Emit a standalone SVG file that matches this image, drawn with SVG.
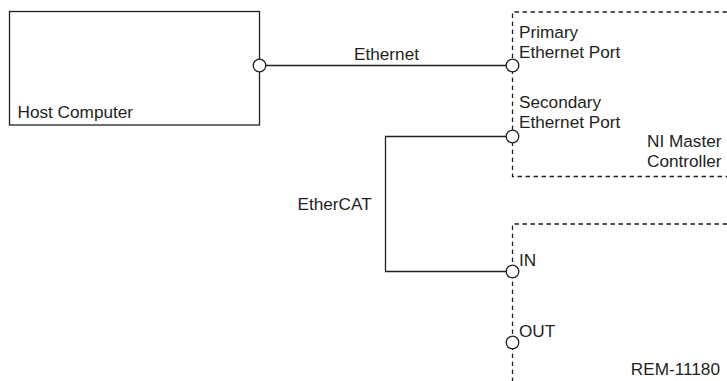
<svg xmlns="http://www.w3.org/2000/svg" width="727" height="381" viewBox="0 0 727 381">
<style>
text{font-family:"Liberation Sans",Arial,sans-serif;font-size:17.2px;fill:#231f20}
.solid{fill:none;stroke:#231f20;stroke-width:1.3}
.dash{fill:none;stroke:#231f20;stroke-width:1.3;stroke-dasharray:4.5 3.5}
.port{fill:#fff;stroke:#231f20;stroke-width:1.3}
</style>
<rect width="727" height="381" fill="#fff"/>
<g id="connectors">
<line class="solid" x1="259.5" y1="65.5" x2="512.5" y2="65.5"/>
<polyline class="solid" points="512.5,136.5 385.5,136.5 385.5,271.5 512.5,271.5"/>
<text x="386.5" y="60" text-anchor="middle">Ethernet</text>
<text x="297.5" y="210">EtherCAT</text>
</g>
<g id="host">
<rect class="solid" x="9.5" y="11.5" width="250" height="113.5"/>
<text x="17.5" y="118">Host Computer</text>
<circle class="port" cx="259.5" cy="65.5" r="6.3"/>
</g>
<g id="master">
<polyline class="dash" points="727,12 512.5,12 512.5,176.5 727,176.5"/>
<text x="519" y="38">Primary</text>
<text x="519" y="57.5">Ethernet Port</text>
<text x="519" y="108">Secondary</text>
<text x="519" y="127.5">Ethernet Port</text>
<text x="721.5" y="147" text-anchor="end">NI Master</text>
<text x="721.5" y="166.5" text-anchor="end">Controller</text>
<circle class="port" cx="512.5" cy="65.5" r="6.3"/>
<circle class="port" cx="512.5" cy="136.5" r="6.3"/>
</g>
<g id="slave">
<polyline class="dash" points="727,224 512.5,224 512.5,381"/>
<text x="519" y="266">IN</text>
<text x="519" y="337">OUT</text>
<text x="720" y="375" text-anchor="end">REM-11180</text>
<circle class="port" cx="512.5" cy="271.5" r="6.3"/>
<circle class="port" cx="512.5" cy="342.5" r="6.3"/>
</g>
</svg>
